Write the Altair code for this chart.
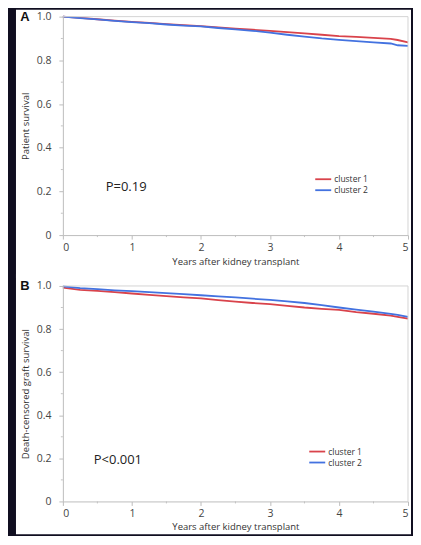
import altair as alt
import pandas as pd

# ---- data ----
years = [0, 0.25, 0.5, 0.75, 1, 1.25, 1.5, 1.75, 2, 2.25, 2.5, 2.75, 3,
         3.25, 3.5, 3.75, 4, 4.25, 4.5, 4.75, 4.85, 5]
a_cluster1 = [1.0, .994, .988, .982, .976, .971, .966, .961, .957, .951, .945, .940, .935,
              .929, .923, .917, .911, .907, .903, .898, .893, .882]
a_cluster2 = [1.0, .993, .987, .981, .975, .970, .964, .959, .955, .948, .942, .935, .927,
              .917, .908, .900, .894, .888, .882, .877, .869, .866]
b_cluster1 = [.992, .982, .977, .971, .965, .959, .953, .947, .942, .934, .927, .921, .916,
              .908, .900, .894, .889, .879, .871, .862, .857, .848]
b_cluster2 = [.998, .990, .985, .980, .976, .971, .967, .962, .957, .952, .947, .941, .935,
              .928, .921, .911, .900, .890, .881, .870, .866, .857]
groups = ["cluster 1", "cluster 2"]
x_ticks = [0, 1, 2, 3, 4, 5]
x_minor = [0.5, 1.5, 2.5, 3.5, 4.5]
y_ticks = [0, 0.2, 0.4, 0.6, 0.8, 1.0]
y_minor = [0.1, 0.3, 0.5, 0.7, 0.9]

RED = "#d9434b"
BLUE = "#4372e0"
FONT = "Open Sans"
W = 346


def panel(c1, c2, letter, ytitle, ptext, p_xy, leg_xy, h, rect_top, rect_bottom, tpad):
    n = len(years)
    df = pd.DataFrame({"year": years * 2, "surv": c1 + c2,
                       "group": [groups[0]] * n + [groups[1]] * n})
    xs = alt.Scale(domain=[0, 5], nice=False)
    ys = alt.Scale(domain=[0, 1], nice=False)
    one = pd.DataFrame({"k": [0]})

    bg = alt.Chart(one).mark_rect(color="white").encode(
        x=alt.value(-47), x2=alt.value(W + 3),
        y=alt.value(rect_top), y2=alt.value(rect_bottom))

    lines = alt.Chart(df).mark_line(strokeWidth=1.8).encode(
        x=alt.X("year:Q", scale=xs,
                axis=alt.Axis(values=x_ticks, title="Years after kidney transplant",
                              format="d", zindex=1, grid=False, tickSize=4,
                              labelPadding=3, titlePadding=tpad)),
        y=alt.Y("surv:Q", scale=ys,
                axis=alt.Axis(values=y_ticks, title=ytitle, zindex=1, grid=False,
                              tickSize=4, labelPadding=8, titlePadding=6,
                              labelExpr="datum.value == 0 ? '0' : format(datum.value, '.1f')")),
        color=alt.Color("group:N", scale=alt.Scale(domain=groups, range=[RED, BLUE]),
                        legend=None),
        order=alt.Order("year:Q"),
    )

    xminor = alt.Chart(pd.DataFrame({"year": x_minor})).mark_rule(
        color="#c4c4c4", strokeWidth=1).encode(
        x=alt.X("year:Q", scale=xs), y=alt.value(h), y2=alt.value(h + 2))
    yminor = alt.Chart(pd.DataFrame({"surv": y_minor})).mark_rule(
        color="#c4c4c4", strokeWidth=1).encode(
        y=alt.Y("surv:Q", scale=ys), x=alt.value(0), x2=alt.value(-2))

    top = alt.Chart(one).mark_rule(color="#d4d4d4", strokeWidth=1).encode(
        x=alt.value(0), x2=alt.value(W), y=alt.value(0))
    right = alt.Chart(one).mark_rule(color="#d4d4d4", strokeWidth=1).encode(
        x=alt.value(W), y=alt.value(0), y2=alt.value(h))

    let = alt.Chart(one).mark_text(text=letter, fontWeight="bold", fontSize=13,
                                   font="Liberation Sans", color="#111",
                                   align="center", baseline="middle").encode(
        x=alt.value(-38), y=alt.value(0))

    ptxt = alt.Chart(one).mark_text(text=ptext, fontSize=13, font=FONT, color="#222",
                                    align="left", baseline="middle").encode(
        x=alt.value(p_xy[0]), y=alt.value(p_xy[1]))

    lx, ly = leg_xy
    leg_lines = []
    leg_texts = []
    for i, g in enumerate(groups):
        leg_lines.append(alt.Chart(one).mark_rule(color=[RED, BLUE][i], strokeWidth=1.8).encode(
            x=alt.value(lx), x2=alt.value(lx + 16), y=alt.value(ly + 11 * i)))
        leg_texts.append(alt.Chart(one).mark_text(text=g, fontSize=8.5, font=FONT,
                                                  color="#333", align="left",
                                                  baseline="middle").encode(
            x=alt.value(lx + 19), y=alt.value(ly + 11 * i)))

    return alt.layer(bg, xminor, yminor, lines, top, right, let, ptxt,
                     *leg_lines, *leg_texts).properties(width=W, height=h)


A = panel(a_cluster1, a_cluster2, "A", "Patient survival", "P=0.19",
          (43, 171), (253, 163), 219, -7, 262, 4)
B = panel(b_cluster1, b_cluster2, "B", "Death-censored graft survival", "P<0.001",
          (31, 174), (247, 166), 216, -12, 249, 3)

chart = alt.vconcat(A, B, spacing=51, bounds="flush").properties(
    background="#100e20",
    padding={"left": 7, "top": 0, "right": 0, "bottom": 0},
).configure_view(stroke="transparent").configure_axis(
    domainColor="#bdbdbd", tickColor="#bdbdbd", labelColor="#444",
    titleColor="#333", labelFont=FONT, titleFont=FONT,
    labelFontSize=10.5, titleFontSize=9.5, titleFontWeight="normal",
)

chart.save("out.html", embed_options={"renderer": "svg", "actions": False})
